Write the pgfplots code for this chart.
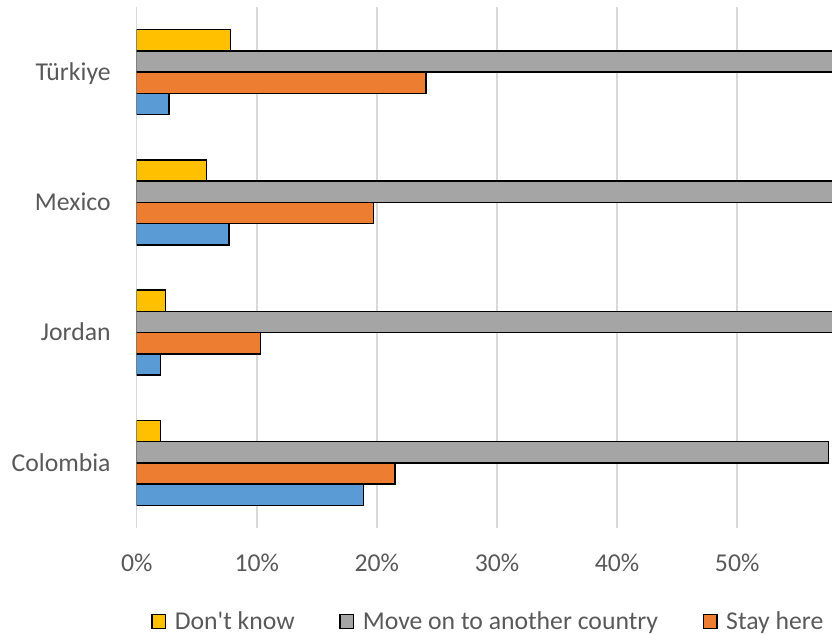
\documentclass[border=0pt]{standalone}
\usepackage{pgfplots}
\usepackage{pgfplotstable}
\pgfplotsset{compat=1.18}
\usepackage{fontspec}
\setmainfont{Carlito}

\definecolor{cYellow}{HTML}{FFC000}
\definecolor{cGray}{HTML}{A5A5A5}
\definecolor{cOrange}{HTML}{ED7D31}
\definecolor{cBlue}{HTML}{5B9BD5}
\definecolor{cGrid}{HTML}{D9D9D9}
\definecolor{cText}{HTML}{595959}

% Shares of respondents (%) by intention; y: 0 Colombia, 1 Jordan, 2 Mexico, 3 Turkiye
\pgfplotstableread{
y   dontknow  moveon  stay  ret
0   2.0       57.6    21.5  18.9
1   2.4       85.3    10.3  2.0
2   5.8       66.8    19.7  7.7
3   7.8       65.4    24.1  2.7
}\shares

\begin{document}
\begin{tikzpicture}
\path[use as bounding box] (0,0) rectangle (416pt,317.5pt);
\clip (0,0) rectangle (416pt,317.5pt);
\begin{axis}[
  at={(68.35pt,53.5pt)}, anchor=south west,
  scale only axis, width=360.3pt, height=260.5pt,
  xbar, bar width=10.65pt,
  xmin=0, xmax=60, ymin=-0.5, ymax=3.5,
  enlarge x limits=false, enlarge y limits=false,
  axis line style={draw=none},
  major tick length=0pt,
  xtick={0,10,...,50},
  xticklabels={0\%,10\%,20\%,30\%,40\%,50\%},
  ytick={0,1,2,3},
  yticklabels={Colombia,Jordan,Mexico,Türkiye},
  xmajorgrids,
  major grid style={draw=cGrid, line width=0.75pt},
  tick label style={font=\fontsize{12.85}{15}\selectfont, text=cText, inner sep=0pt},
  xticklabel style={anchor=base, yshift=-21.85pt},
  yticklabel style={anchor=base east, xshift=-12.85pt, yshift=-4.1pt},
  legend columns=-1,
  legend style={
    at={(axis description cs:0.0194,-0.1798)}, anchor=west,
    draw=none, fill=none, inner sep=0pt,
    font=\fontsize{12.85}{15}\selectfont, text=cText,
    nodes={inner sep=0pt},
    /tikz/every odd column/.append style={column sep=4.2pt},
    /tikz/every even column/.append style={column sep=22.2pt},
  },
  legend image code/.code={
    \draw[#1, draw=black, line width=0.75pt] (0pt,-3.5pt) rectangle (6.9pt,3.5pt);
  },
  every axis plot/.append style={draw=black, line width=0.75pt},
]
\addplot[fill=cYellow, bar shift=15.975pt] table[x=dontknow, y=y] {\shares};
\addlegendentry{Don\textquotesingle t know}
\addplot[fill=cGray, bar shift=5.325pt] table[x=moveon, y=y] {\shares};
\addlegendentry{Move on to another country}
\addplot[fill=cOrange, bar shift=-5.325pt] table[x=stay, y=y] {\shares};
\addlegendentry{Stay here}
\addplot[fill=cBlue, bar shift=-15.975pt, forget plot] table[x=ret, y=y] {\shares};
\end{axis}
\end{tikzpicture}
\end{document}
